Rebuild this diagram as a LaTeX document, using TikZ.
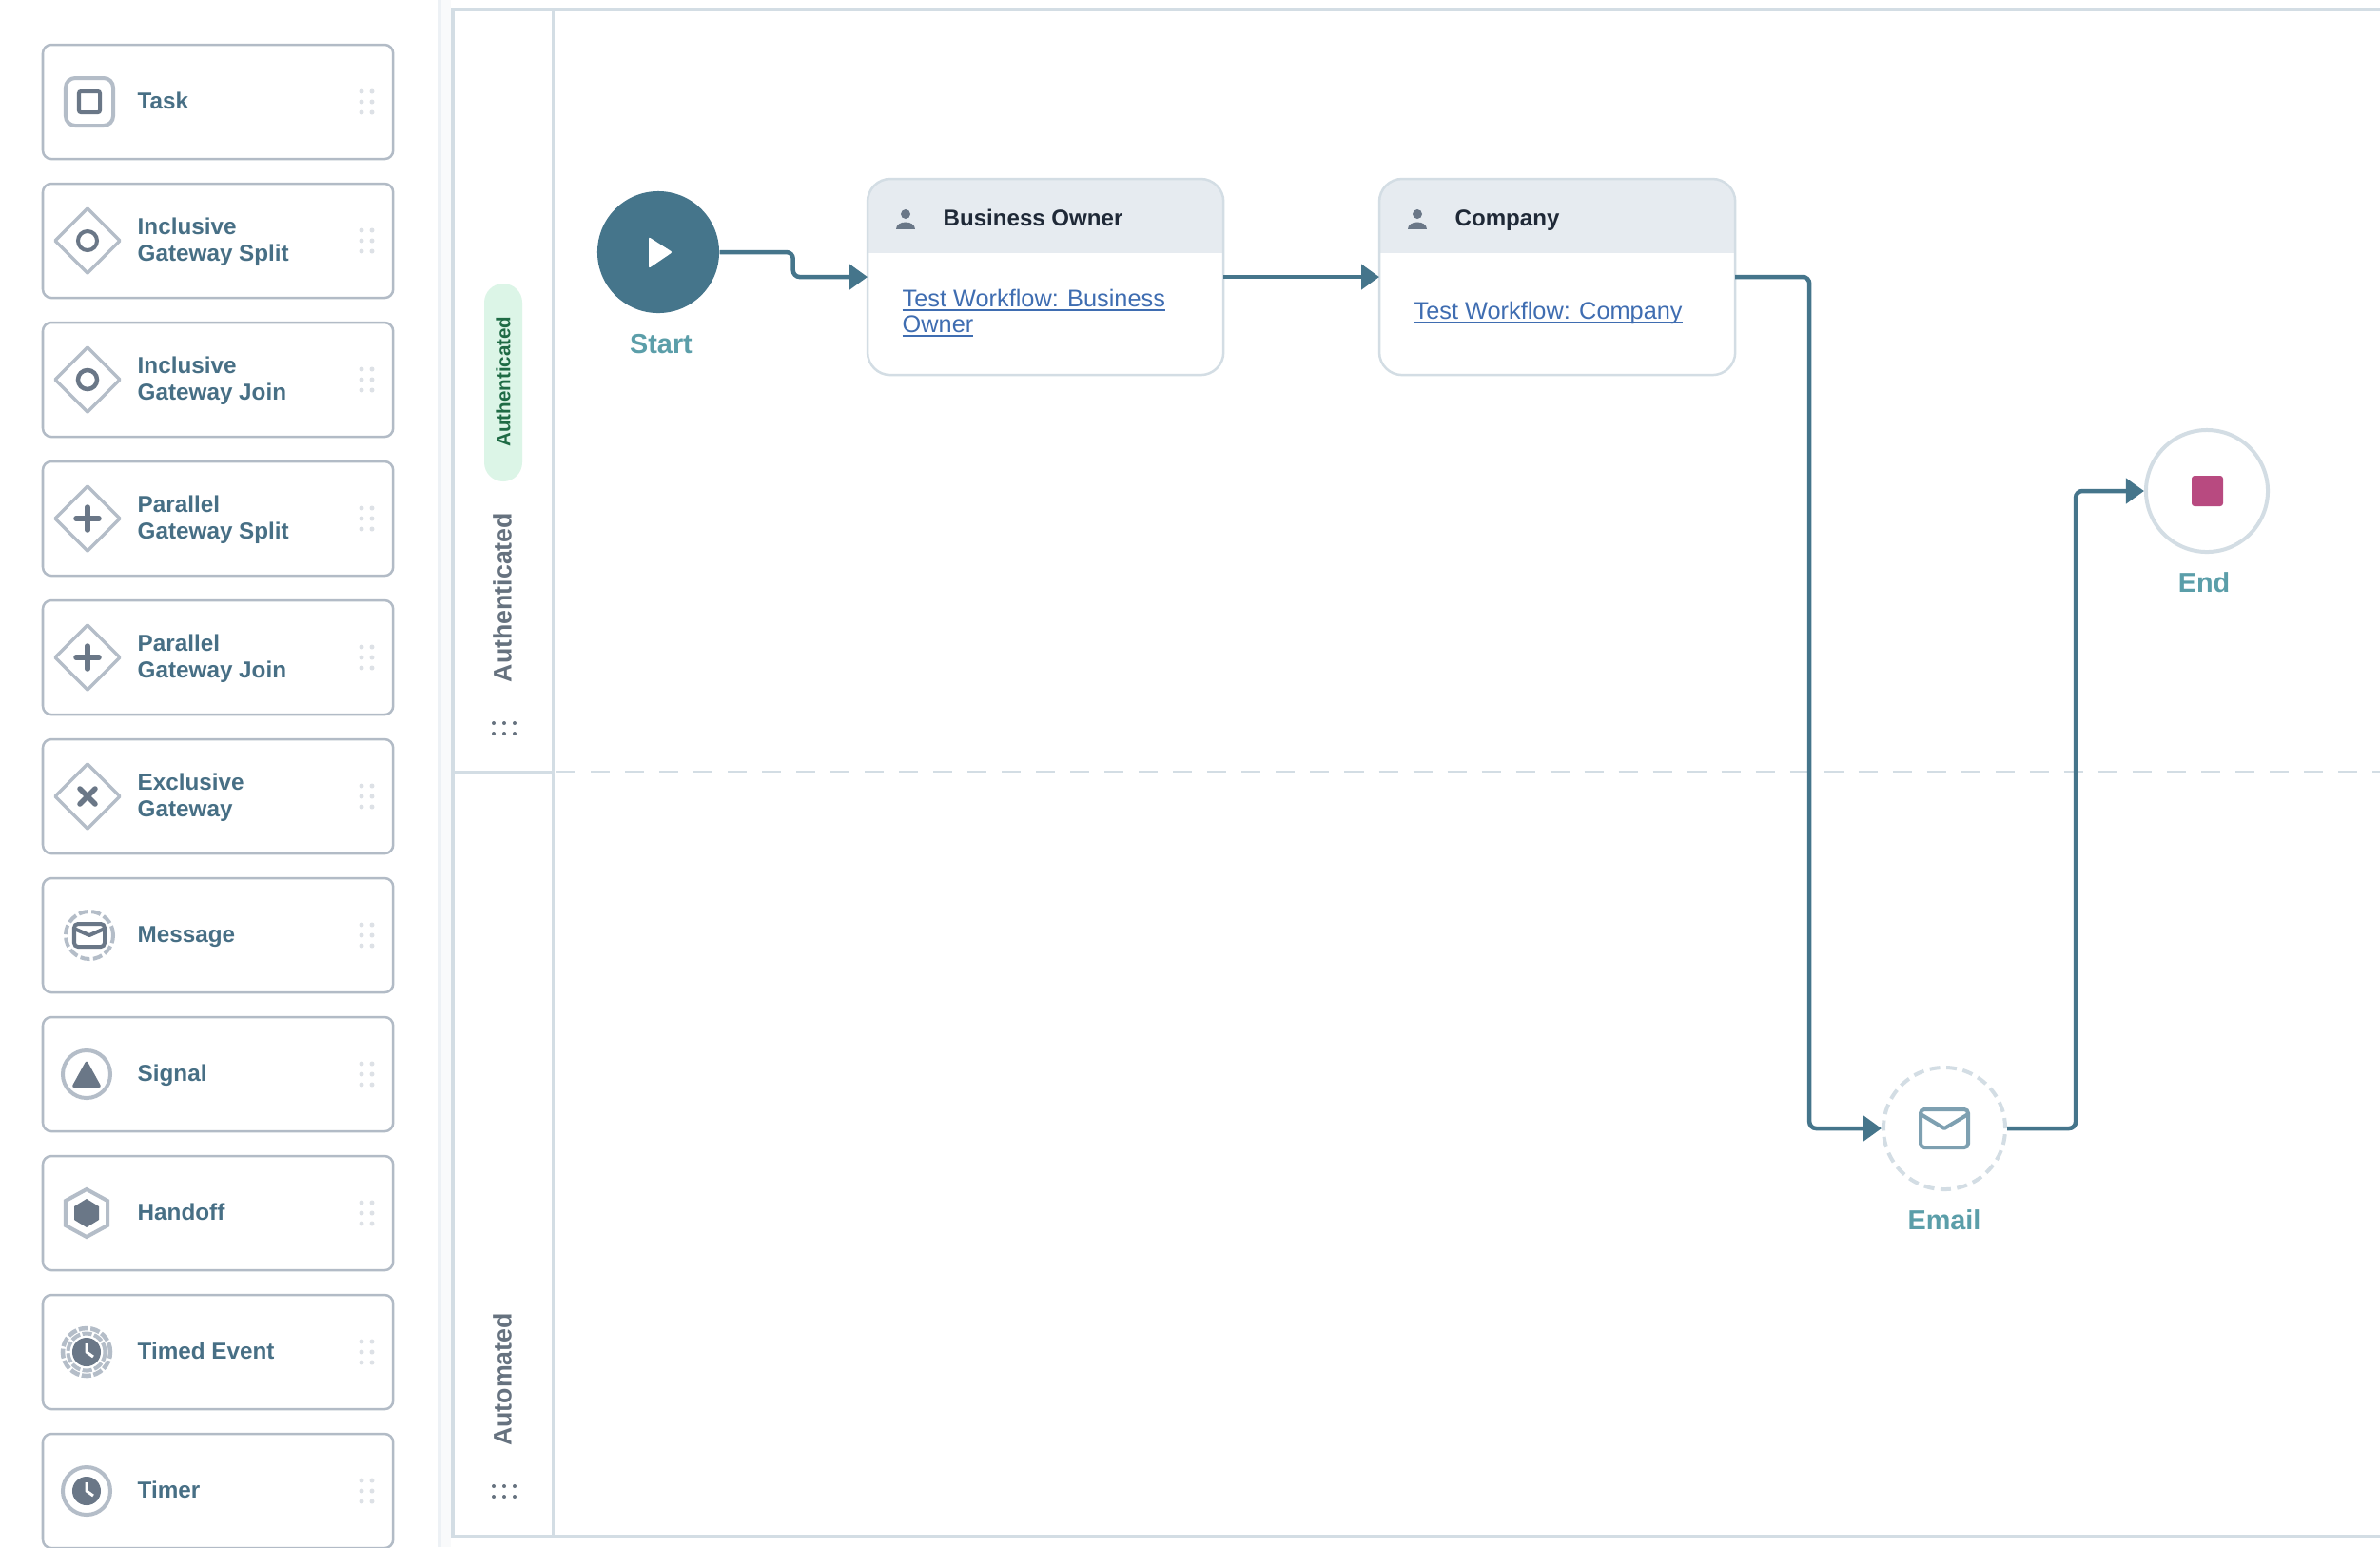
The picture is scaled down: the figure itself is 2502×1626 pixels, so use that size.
\documentclass[tikz,border=0pt]{standalone}
\usepackage{fontspec}
\setmainfont{Liberation Sans}
\usetikzlibrary{arrows.meta}
\usetikzlibrary{calc}
\definecolor{cardline}{HTML}{B2BBC6}
\definecolor{iconlight}{HTML}{B4BDC8}
\definecolor{icondark}{HTML}{6A7787}
\definecolor{itemtext}{HTML}{476F85}
\definecolor{gripdot}{HTML}{DDE1E6}
\definecolor{laneline}{HTML}{D3DDE4}
\definecolor{flowline}{HTML}{45758B}
\definecolor{eventtext}{HTML}{5B9EA9}
\definecolor{headfill}{HTML}{E6EBF0}
\definecolor{titletext}{HTML}{1F2937}
\definecolor{linktext}{HTML}{3F6DB1}
\definecolor{lanetext}{HTML}{66727F}
\definecolor{stopfill}{HTML}{B84A80}
\definecolor{mailline}{HTML}{7EA0B1}
\definecolor{pillfill}{HTML}{DCF5E7}
\definecolor{pilltext}{HTML}{1F6B45}
\newlength{\linkwidth}
\newcommand{\linkline}[1]{\settowidth{\linkwidth}{#1}\rlap{\rule[-1.1pt]{\linkwidth}{0.5pt}}#1}
\tikzset{
	palcard/.style={draw=cardline, fill=white, line width=0.025cm, rounded corners=0.09cm, minimum width=3.68cm, minimum height=1.2cm, anchor=north west, inner sep=0pt, outer sep=0pt},
	pallabel/.style={text=itemtext, font=\fontsize{6.9}{8}\selectfont\bfseries, align=left, anchor=west, inner sep=0pt},
	flow/.style={draw=flowline, line width=0.045cm, rounded corners=0.07cm, -{Triangle[length=0.19cm,width=0.26cm]}},
	taskcard/.style={draw=laneline, fill=white, line width=0.025cm, rounded corners=0.24cm, minimum width=3.74cm, minimum height=2.06cm, anchor=north west, inner sep=0pt, outer sep=0pt,
		path picture={\fill[headfill, sharp corners] (path picture bounding box.north west) rectangle ($(path picture bounding box.north east)+(0,78)$);}},
	tasktitle/.style={text=titletext, font=\fontsize{6.85}{8}\selectfont\bfseries, anchor=base west, inner sep=0pt},
	tasklink/.style={text=linktext, font=\fontsize{7.2}{7.7}\selectfont, align=left, anchor=west, inner sep=0pt},
	eventlabel/.style={text=eventtext, font=\fontsize{8.2}{10}\selectfont\bfseries, inner sep=0pt},
	lanelabel/.style={text=lanetext, font=\fontsize{7.6}{9}\selectfont\bfseries, rotate=90, inner sep=0pt},
}
\newcommand{\paletteitem}[3] % top y in px, node name, label
{
	\node[palcard] (#2) at (45,#1) {};
	\node[pallabel] (#2-label) at (144,#1+62) {\strut #3\strut};
	% drag grip
	\foreach \gripx in {380,391}
		\foreach \gripy in {49,60,71}
			\fill[gripdot] (\gripx,#1+\gripy) circle (0.025cm);
}
\newcommand{\gatewayicon}[2] % x, y of centre
{
	\draw[iconlight, line width=0.035cm, line join=round] (#1-34,#2) -- (#1,#2-34) -- (#1+34,#2) -- (#1,#2+34) -- cycle;
}
\newcommand{\plusicon}[2]
{
	\gatewayicon{#1}{#2}
	\draw[icondark, line width=0.055cm, line cap=round] (#1-12,#2) -- (#1+12,#2);
	\draw[icondark, line width=0.055cm, line cap=round] (#1,#2-12) -- (#1,#2+12);
}
\newcommand{\clockface}[2]
{
	\fill[icondark] (#1,#2) circle (0.15cm);
	\draw[white, line width=0.03cm, line join=round] (#1,#2-9) -- (#1,#2) -- (#1+7,#2+5);
}
\newcommand{\envelope}[6] % x, y of centre, half width, half height, colour, line width in cm
{
	\draw[#5, line width=#6cm, rounded corners=0.04cm] (#1-#3,#2-#4) rectangle (#1+#3,#2+#4);
	\draw[#5, line width=#6cm, line join=round] (#1-#3,#2-#4+5) -- (#1,#2) -- (#1+#3,#2-#4+5);
}
\newcommand{\personicon}[2]
{
	\fill[icondark] (#1,#2-5) circle (0.05cm);
	\fill[icondark] (#1-10,#2+11) .. controls (#1-10,#2+1) and (#1+10,#2+1) .. (#1+10,#2+11) -- cycle;
}
\newcommand{\lanegrip}[1] % y of the upper row
{
	\foreach \dotx in {519,530,541}
	{
		\fill[lanetext] (\dotx,#1) circle (0.02cm);
		\fill[lanetext] (\dotx,#1+11) circle (0.02cm);
	}
}

\begin{document}
\begin{tikzpicture}[x=0.01cm, y=-0.01cm]
	% whole image: 2502px x 1626px, 1px = 0.01cm
	\clip (0,0) rectangle (2502,1626);
	\fill[white] (0,0) rectangle (2502,1626);

	% sidebar edge
	\fill[headfill!70!white] (460,0) rectangle (464,1626);
	\fill[headfill!25!white] (464,0) rectangle (474,1626);

	% lanes
	\draw[laneline, line width=0.04cm] (476,10) rectangle (2530,1615);
	\draw[laneline, line width=0.03cm] (581,10) -- (581,1615);
	\draw[laneline, line width=0.03cm] (476,811) -- (581,811);
	\draw[laneline, line width=0.02cm, dash pattern=on 0.2cm off 0.16cm] (585,811) -- (2502,811);

	% palette
	\paletteitem{47}{task}{Task}
	\paletteitem{193}{inclsplit}{Inclusive\\Gateway Split}
	\paletteitem{339}{incljoin}{Inclusive\\Gateway Join}
	\paletteitem{485}{parsplit}{Parallel\\Gateway Split}
	\paletteitem{631}{parjoin}{Parallel\\Gateway Join}
	\paletteitem{777}{exclusive}{Exclusive\\Gateway}
	\paletteitem{923}{message}{Message}
	\paletteitem{1069}{signal}{Signal}
	\paletteitem{1215}{handoff}{Handoff}
	\paletteitem{1361}{timedevent}{Timed Event}
	\paletteitem{1507}{timer}{Timer}

	% palette icons
	\draw[iconlight, line width=0.04cm, rounded corners=0.1cm] (69,82) rectangle (119,132);
	\draw[icondark, line width=0.04cm, rounded corners=0.02cm] (83,96) rectangle (105,118);

	\gatewayicon{92}{253}
	\draw[icondark, line width=0.04cm] (92,253) circle (0.1cm);
	\gatewayicon{92}{399}
	\draw[icondark, line width=0.045cm] (92,399) circle (0.1cm);

	\plusicon{92}{545}
	\plusicon{92}{691}

	\gatewayicon{92}{837}
	\draw[icondark, line width=0.055cm, line cap=round] (84,829) -- (100,845);
	\draw[icondark, line width=0.055cm, line cap=round] (84,845) -- (100,829);

	\draw[iconlight, line width=0.04cm, dash pattern=on 0.1cm off 0.035cm] (94,983) circle (0.25cm);
	\envelope{94}{983}{16}{12}{icondark}{0.04}

	\draw[iconlight, line width=0.04cm] (91,1129) circle (0.25cm);
	\fill[icondark, rounded corners=0.03cm] (91,1114) -- (107,1143) -- (75,1143) -- cycle;

	\draw[iconlight, line width=0.04cm] (91,1250) -- (113,1262) -- (113,1288) -- (91,1300) -- (69,1288) -- (69,1262) -- cycle;
	\fill[icondark] (91,1260) -- (104,1268) -- (104,1282) -- (91,1290) -- (78,1282) -- (78,1268) -- cycle;

	\draw[iconlight, line width=0.045cm, dash pattern=on 0.1cm off 0.025cm] (91,1421) circle (0.25cm);
	\draw[iconlight, line width=0.04cm, dash pattern=on 0.1cm off 0.025cm] (91,1421) circle (0.195cm);
	\clockface{91}{1421}

	\draw[iconlight, line width=0.04cm] (91,1567) circle (0.25cm);
	\clockface{91}{1567}

	% lane labels
	\fill[pillfill, rounded corners=0.2cm] (509,298) rectangle (549,506);
	\node[text=pilltext, font=\fontsize{5.85}{7}\selectfont\bfseries, rotate=90, inner sep=0pt] (authpill) at (529,401) {Authenticated};
	\node[lanelabel] (authlane) at (528,628) {Authenticated};
	\node[lanelabel] (autolane) at (528,1450) {Automated};
	\lanegrip{760}
	\lanegrip{1562}

	% events
	\node[circle, fill=flowline, minimum size=1.28cm, inner sep=0pt] (start) at (692,265) {};
	\fill[white, rounded corners=0.02cm] (682,249) -- (707,265) -- (682,282) -- cycle;
	\node[eventlabel] (startlabel) at (695,362) {Start};

	\node[circle, draw=laneline, fill=white, line width=0.04cm, minimum size=1.28cm, inner sep=0pt] (stop) at (2320,516) {};
	\fill[stopfill, rounded corners=0.03cm] (2304,500) rectangle (2337,532);
	\node[eventlabel] (stoplabel) at (2317,612) {End};

	\node[circle, draw=laneline, fill=white, line width=0.04cm, dash pattern=on 0.11cm off 0.065cm, minimum size=1.28cm, inner sep=0pt] (email) at (2044,1186) {};
	\envelope{2044}{1186}{25}{20}{mailline}{0.04}
	\node[eventlabel] (emaillabel) at (2044,1282) {Email};

	% tasks
	\node[taskcard] (owner) at (912,188) {};
	\personicon{952}{230}
	\node[tasktitle] (ownertitle) at (991,237) {Business Owner};
	\node[tasklink] (ownerlink) at (948,329) {\linkline{Test Workflow: Business}\\\linkline{Owner}};

	\node[taskcard] (company) at (1450,188) {};
	\personicon{1490}{230}
	\node[tasktitle] (companytitle) at (1529,237) {Company};
	\node[tasklink] (companylink) at (1486,329) {\linkline{Test Workflow: Company}};

	% connectors
	\draw[flow] (start.east) -- ++(77,0) |- (owner.west);
	\draw[flow] (owner.east) -- (company.west);
	\draw[flow] (company.east) -- ++(78,0) |- (email.west);
	\draw[flow] (email.east) -- ++(72,0) |- (stop.west);
\end{tikzpicture}
\end{document}
